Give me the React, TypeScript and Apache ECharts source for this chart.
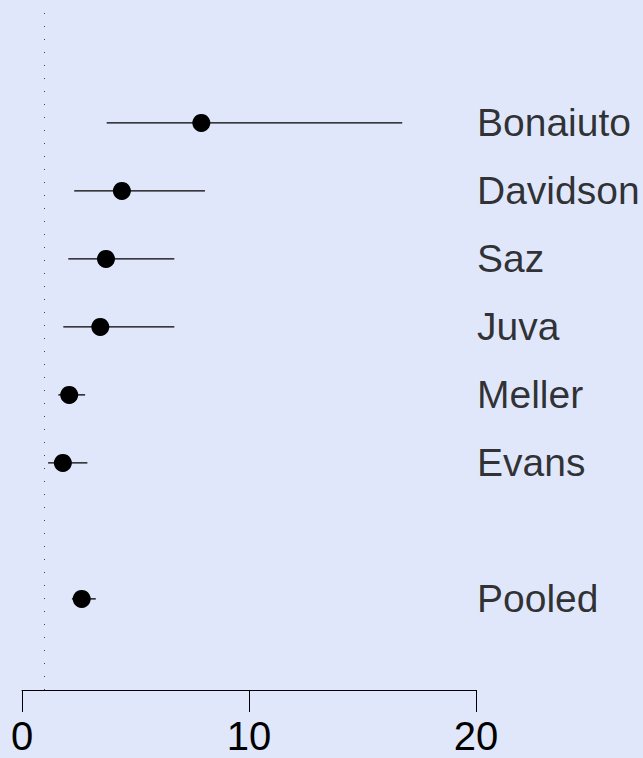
import React, { useEffect, useRef } from "react";
import * as echarts from "echarts";

const studies = ["Bonaiuto", "Davidson", "Saz", "Juva", "Meller", "Evans", "Pooled"];
const rows = [8, 7, 6, 5, 4, 3, 1];
const estimates = [7.9, 4.4, 3.7, 3.45, 2.08, 1.8, 2.63];
const lower = [3.73, 2.3, 2.04, 1.82, 1.6, 1.15, 2.2];
const upper = [16.75, 8.06, 6.71, 6.71, 2.78, 2.88, 3.25];
const xTicks = [0, 10, 20];
const referenceValue = 1;

const BG = "#e1e7fa";
const FONT = "Liberation Sans";

export default function App() {
  const ref = useRef<HTMLDivElement>(null);
  useEffect(() => {
    document.body.style.margin = "0";
    document.body.style.background = BG;
    const chart = echarts.init(ref.current!, null, { renderer: "svg" });
    const ciData = studies.map((s, i) => [lower[i], upper[i], rows[i]]);
    const pointData = studies.map((s, i) => [estimates[i], rows[i]]);
    const labelData = studies.map((s, i) => ({ name: s, value: [xTicks[xTicks.length - 1], rows[i]] }));
    chart.setOption({
      animation: false,
      backgroundColor: BG,
      grid: { left: 22, width: 454, top: 10, height: 680, containLabel: false },
      xAxis: {
        type: "value",
        min: 0,
        max: 20,
        interval: 10,
        splitLine: { show: false },
        axisLine: { show: true, onZero: false, lineStyle: { color: "#000", width: 1 } },
        axisTick: { show: true, length: 22, inside: false, lineStyle: { color: "#000", width: 1 } },
        axisLabel: { color: "#000", fontSize: 40, lineHeight: 34, fontFamily: FONT, margin: 29 },
      },
      yAxis: {
        type: "value",
        min: -0.34,
        max: 9.66,
        show: false,
      },
      series: [
        {
          type: "custom",
          renderItem: (params: any, api: any) => {
            const a = api.coord([api.value(0), api.value(2)]);
            const b = api.coord([api.value(1), api.value(2)]);
            return {
              type: "line",
              shape: { x1: a[0], y1: a[1], x2: b[0], y2: b[1] },
              style: { stroke: "#000", lineWidth: 1.3 },
            };
          },
          data: ciData,
          encode: { x: [0, 1], y: 2 },
          silent: true,
          markLine: {
            silent: true,
            symbol: "none",
            label: { show: false },
            lineStyle: { color: "#444", type: [1, 12], width: 1 },
            data: [{ xAxis: referenceValue }],
          },
        },
        {
          type: "scatter",
          data: pointData,
          symbol: "circle",
          symbolSize: 18,
          itemStyle: { color: "#000", opacity: 1 },
          silent: true,
        },
        {
          type: "scatter",
          data: labelData,
          symbolSize: 0,
          silent: true,
          label: {
            show: true,
            position: "right",
            distance: 1,
            formatter: (p: any) => p.name,
            color: "#000",
            fontSize: 39,
            fontFamily: FONT,
          },
        },
      ],
    });
    return () => chart.dispose();
  }, []);
  return <div ref={ref} style={{ width: 643, height: 758, background: BG }} />;
}
